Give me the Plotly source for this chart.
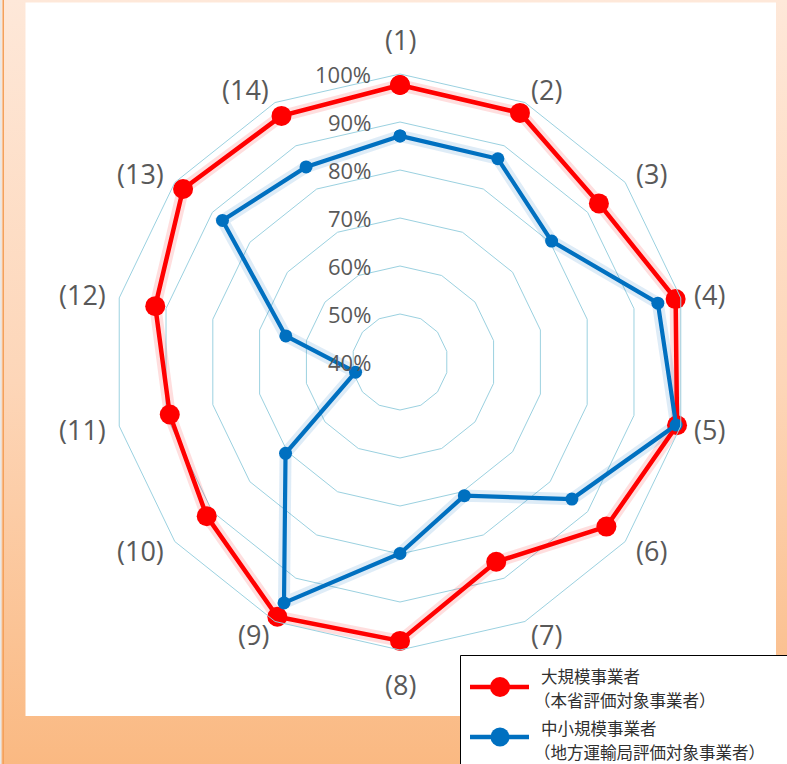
import base64
import math
import plotly.graph_objects as go

# ---- data -------------------------------------------------------------
categories = ["(1)", "(2)", "(3)", "(4)", "(5)", "(6)", "(7)",
              "(8)", "(9)", "(10)", "(11)", "(12)", "(13)", "(14)"]
large_vals = [97.7, 97.6, 93.0, 98.9, 99.2, 95.0, 86.2,
              98.1, 98.9, 91.5, 89.2, 92.3, 97.8, 96.9]
small_vals = [87.1, 87.0, 80.4, 95.1, 99.0, 85.8, 70.9,
              79.9, 95.7, 70.5, 49.5, 64.4, 87.3, 85.1]
large_name = ["大規模事業者", "（本省評価対象事業者）"]
small_name = ["中小規模事業者", "（地方運輸局評価対象事業者）"]
radial_ticks = [40, 50, 60, 70, 80, 90, 100]
radial_labels = ["40%", "50%", "60%", "70%", "80%", "90%", "100%"]

# ---- geometry / style -------------------------------------------------
W, H = 787, 764
CX, CY, R = 400, 362, 288          # polar centre and outer radius (px)
R_MIN, R_MAX = 40, 100
RED = "#FF0000"
BLUE = "#0070C0"
GRID = "#9BD1E0"
LABEL = "#595959"
CAT_GAP = 14                       # gap between outer ring and category label
CAT_GAP_VERT = 16
LEG_FONT = 16.5
LEG_LINE = 24                      # legend text line pitch (px)


def px_x(x):
    return x / W


def px_y(y):
    return 1 - y / H


def closed(seq):
    return list(seq) + [seq[0]]


# background: peach-to-orange frame with a white panel
svg = f"""<svg xmlns='http://www.w3.org/2000/svg' width='{W}' height='{H}'>
<defs><linearGradient id='g' x1='0' y1='0' x2='0' y2='1'>
<stop offset='0' stop-color='#FEE8D9'/><stop offset='0.5' stop-color='#FDD6B8'/>
<stop offset='1' stop-color='#FAB982'/></linearGradient></defs>
<rect width='{W}' height='{H}' fill='url(#g)'/>
<rect x='0' y='0' width='1.5' height='{H}' fill='#E8E8E8'/>
<rect x='2.5' y='0' width='1.5' height='{H}' fill='#F4A15C'/>
<rect x='25.5' y='2.5' width='750.5' height='713.5' fill='#FFFFFF'/>
</svg>"""
bg_uri = "data:image/svg+xml;base64," + base64.b64encode(svg.encode()).decode()

fig = go.Figure()

series = [
    (large_vals, RED, 20, 4.5, "rgba(255,0,0,0.13)"),
    (small_vals, BLUE, 13, 4.2, "rgba(0,112,192,0.13)"),
]

# soft glow under each line
for vals, col, msize, lw, glow in series:
    fig.add_trace(go.Scatterpolar(
        r=closed(vals), theta=closed(categories), mode="lines",
        line=dict(color=glow, width=12), hoverinfo="skip", showlegend=False,
    ))

for vals, col, msize, lw, glow in series:
    fig.add_trace(go.Scatterpolar(
        r=closed(vals), theta=closed(categories), mode="lines+markers",
        line=dict(color=col, width=lw),
        marker=dict(color=col, size=msize),
        showlegend=False,
    ))

fig.update_layout(
    width=W, height=H, autosize=False,
    margin=dict(l=0, r=0, t=0, b=0),
    paper_bgcolor="rgba(0,0,0,0)",
    plot_bgcolor="rgba(0,0,0,0)",
    images=[dict(source=bg_uri, xref="paper", yref="paper", x=0, y=1,
                 sizex=1, sizey=1, sizing="stretch", layer="below",
                 xanchor="left", yanchor="top")],
    polar=dict(
        domain=dict(x=[px_x(CX - R), px_x(CX + R)],
                    y=[px_y(CY + R), px_y(CY - R)]),
        bgcolor="rgba(0,0,0,0)",
        gridshape="linear",
        angularaxis=dict(
            type="category", categoryarray=categories,
            direction="clockwise", rotation=90,
            showgrid=False, showline=True, linecolor=GRID, linewidth=1,
            ticks="", showticklabels=False,
        ),
        radialaxis=dict(
            range=[R_MIN, R_MAX], tick0=R_MIN, dtick=10,
            showticklabels=False, ticks="", showline=False,
            gridcolor=GRID, gridwidth=1,
        ),
    ),
)

annotations = []

# category labels around the outer ring
n = len(categories)
for i, cat in enumerate(categories):
    ang = 360.0 * i / n
    s, c = math.sin(math.radians(ang)), math.cos(math.radians(ang))
    if abs(s) < 1e-6:
        rr = R + CAT_GAP_VERT
        xa, ya = "center", ("bottom" if c > 0 else "top")
    else:
        rr = R + CAT_GAP
        xa, ya = ("left" if s > 0 else "right"), "middle"
    annotations.append(dict(
        x=px_x(CX + rr * s), y=px_y(CY - rr * c), xref="paper", yref="paper",
        text=cat, showarrow=False, xanchor=xa, yanchor=ya,
        borderpad=0, borderwidth=0,
        font=dict(family="Open Sans", size=27, color=LABEL),
    ))

# radial value labels, right-aligned just left of axis (1)
for v, lab in zip(radial_ticks, radial_labels):
    ry = CY - (v - R_MIN) / (R_MAX - R_MIN) * R
    annotations.append(dict(
        x=px_x(CX - 27), y=px_y(ry), xref="paper", yref="paper",
        text=lab, showarrow=False, xanchor="right", yanchor="middle",
        font=dict(family="Open Sans", size=22, color=LABEL),
    ))

# legend box
shapes = [dict(type="rect", xref="paper", yref="paper",
               x0=px_x(460.5), x1=px_x(800), y0=px_y(800), y1=px_y(655.5),
               fillcolor="#FFFFFF", line=dict(color="#000000", width=1),
               layer="above")]

legend_rows = [
    (large_name, RED, 687, 20, 676),
    (small_name, BLUE, 737, 19, 728),
]
for name, col, ly, dia, ty in legend_rows:
    shapes.append(dict(type="line", xref="paper", yref="paper",
                       x0=px_x(470), x1=px_x(529), y0=px_y(ly), y1=px_y(ly),
                       line=dict(color=col, width=4.5), layer="above"))
    shapes.append(dict(type="circle", xref="paper", yref="paper",
                       x0=px_x(500 - dia / 2), x1=px_x(500 + dia / 2),
                       y0=px_y(ly + dia / 2), y1=px_y(ly - dia / 2),
                       fillcolor=col, line=dict(color=col, width=0),
                       layer="above"))
    for k, line_text in enumerate(name):
        # full-width parenthesis carries blank space on its left side
        lx = 533 if line_text.startswith("（") else 540
        annotations.append(dict(
            x=px_x(lx), y=px_y(ty + k * LEG_LINE), xref="paper", yref="paper",
            text=line_text, showarrow=False, align="left",
            xanchor="left", yanchor="middle", borderpad=0,
            font=dict(family="Noto Sans CJK JP", size=LEG_FONT, color="#303030"),
        ))

fig.update_layout(annotations=annotations, shapes=shapes)

fig.write_html("out.html")
